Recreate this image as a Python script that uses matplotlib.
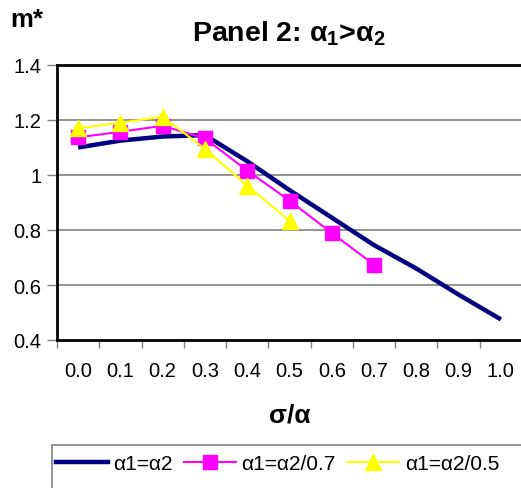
import matplotlib
matplotlib.use("Agg")
import matplotlib.pyplot as plt
from matplotlib.lines import Line2D
from matplotlib.patches import Rectangle

plt.rcParams['font.family'] = ['Liberation Sans', 'DejaVu Sans']
plt.rcParams['mathtext.fontset'] = 'custom'
plt.rcParams['mathtext.rm'] = 'Liberation Sans:bold'
plt.rcParams['mathtext.it'] = 'Liberation Sans:bold'
plt.rcParams['mathtext.bf'] = 'Liberation Sans:bold'

categories = ["0.0", "0.1", "0.2", "0.3", "0.4", "0.5", "0.6", "0.7", "0.8", "0.9", "1.0"]
eq_vals = [1.10, 1.125, 1.14, 1.145, 1.05, 0.945, 0.845, 0.745, 0.66, 0.565, 0.475]
r07_vals = [1.137, 1.157, 1.179, 1.133, 1.016, 0.907, 0.789, 0.674]
r05_vals = [1.17, 1.19, 1.212, 1.095, 0.961, 0.834]
yticks = [0.4, 0.6, 0.8, 1.0, 1.2, 1.4]
ytick_labels = ["0.4", "0.6", "0.8", "1", "1.2", "1.4"]
series_labels = ["α1=α2", "α1=α2/0.7", "α1=α2/0.5"]

W, H = 521, 489
fig = plt.figure(figsize=(W / 100, H / 100), dpi=100)
L, R, T, B = 57, 522, 66, 341
ax = fig.add_axes([L / W, 1 - B / H, (R - L) / W, (B - T) / H])

x_all = list(range(len(categories)))
ax.plot(x_all, eq_vals, color='#000080', lw=3.2, solid_capstyle='butt', zorder=3)
ax.plot(x_all[:len(r07_vals)], r07_vals, color='#FF00FF', lw=1.5, marker='s',
        markersize=9.5, markeredgecolor='#FF00FF', zorder=4)
ax.plot(x_all[:len(r05_vals)], r05_vals, color='#FFFF00', lw=1.5, marker='^',
        markersize=11, markeredgecolor='#FFFF00', zorder=5)

ax.set_xlim(-0.5, len(categories) - 0.5)
ax.set_ylim(0.4, 1.4)

ax.set_yticks(yticks)
ax.set_yticklabels(ytick_labels, fontsize=14.5)
ax.tick_params(axis='y', direction='out', length=7, width=1, color='#808080', pad=4)

ax.set_xticks([i - 0.5 for i in range(len(categories) + 1)])
ax.set_xticklabels([])
ax.tick_params(axis='x', which='major', direction='out', length=6, width=1, color='#808080')
ax.set_xticks(x_all, minor=True)
ax.set_xticklabels(categories, minor=True, fontsize=14.5)
ax.tick_params(axis='x', which='minor', length=0, pad=15)

for yv in yticks[1:-1]:
    ax.axhline(yv, color='#808080', lw=1.2, zorder=1)

for s in ['left', 'bottom', 'top']:
    ax.spines[s].set_color('black')
    ax.spines[s].set_linewidth(2)
ax.spines['right'].set_visible(False)

fig.text(10 / W, 1 - 27 / H, "m*", fontsize=18.5, fontweight='bold', ha='left', va='baseline')
fig.text(289 / W, 1 - 42 / H, r"Panel 2: α$_\mathbf{1}$>α$_\mathbf{2}$", fontsize=20.5,
         fontweight='bold', ha='center', va='baseline')
fig.text(290 / W, 1 - 423 / H, "σ/α", fontsize=19, fontweight='bold', ha='center', va='baseline')

handles = [
    Line2D([], [], color='#000080', lw=3.2),
    Line2D([], [], color='#FF00FF', lw=1.5, marker='s', markersize=9.5),
    Line2D([], [], color='#FFFF00', lw=1.5, marker='^', markersize=11),
]
fig.legend(handles, series_labels, loc='center left', bbox_to_anchor=(56 / W, 1 - 465 / H),
           ncol=3, frameon=False, fontsize=15, handlelength=2.5, handletextpad=0.25,
           columnspacing=0.55, borderpad=0, borderaxespad=0)

fig.patches.append(Rectangle((52 / W, -0.2), 1.0, 0.2 + (H - 446) / H, transform=fig.transFigure,
                             fill=False, edgecolor='#808080', lw=1.2))

fig.savefig("out.png", dpi=100)
